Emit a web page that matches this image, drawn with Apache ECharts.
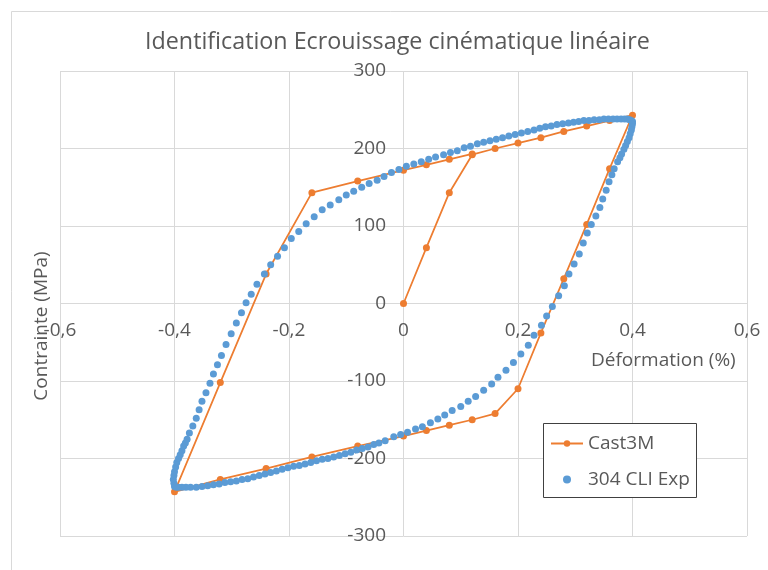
<!DOCTYPE html>
<html>
<head>
<meta charset="utf-8">
<script src="https://cdn.jsdelivr.net/npm/echarts@6/dist/echarts.min.js"></script>
<style>
  html, body { margin: 0; padding: 0; background: #fff; }
  #chart1 { width: 768px; height: 570px; }
</style>
</head>
<body>
<div id="chart1"></div>
<script>
var xTicks = ['-0,6', '-0,4', '-0,2', '0', '0,2', '0,4', '0,6'];

// Cast3M model (line + markers)
var castStrain = [0, 0.04, 0.08, 0.12, 0.16, 0.2, 0.24, 0.28, 0.32, 0.36, 0.4,
  0.36, 0.32, 0.28, 0.24, 0.2, 0.16, 0.12, 0.08, 0.04, 0,
  -0.08, -0.16, -0.24, -0.32, -0.4,
  -0.32, -0.24, -0.16, -0.08, 0, 0.04, 0.08, 0.12];
var castStress = [0, 72, 143, 192, 200, 207, 214, 222, 229, 236, 243,
  174, 102, 32, -38, -110, -142, -150, -157, -164, -171,
  -184, -198, -213, -227, -243,
  -102, 38, 143, 158, 172, 179, 186, 193];

var expStrain = [
  // left branch, going up
  -0.400, -0.401, -0.402, -0.401, -0.400, -0.398, -0.396, -0.393, -0.390, -0.387,
  -0.384, -0.381, -0.378, -0.374, -0.368, -0.362, -0.357, -0.352, -0.345, -0.338,
  -0.332, -0.325, -0.318, -0.310, -0.301, -0.292, -0.283, -0.275, -0.266, -0.256,
  -0.243, -0.232, -0.220, -0.208, -0.196, -0.183, -0.170, -0.156,
  // upper branch
  -0.142, -0.128, -0.113, -0.100, -0.087, -0.073, -0.060, -0.046, -0.034, -0.021,
  -0.008, 0.005, 0.018, 0.031, 0.044, 0.056, 0.070, 0.082, 0.094, 0.106,
  0.117, 0.129, 0.140, 0.151, 0.162, 0.173, 0.184, 0.195, 0.206, 0.217,
  0.228, 0.238, 0.248, 0.258, 0.268, 0.278, 0.288, 0.297, 0.306, 0.315,
  0.324, 0.333, 0.342, 0.350, 0.358, 0.366, 0.373, 0.380, 0.386, 0.391,
  0.395, 0.398, 0.400,
  // right branch, going down
  0.400, 0.399, 0.398, 0.396, 0.394, 0.391, 0.388, 0.385, 0.381, 0.378,
  0.374, 0.368, 0.364, 0.359, 0.354, 0.348, 0.343, 0.336, 0.328, 0.321,
  0.314, 0.307, 0.298, 0.289, 0.281, 0.271, 0.260, 0.250, 0.241, 0.228,
  0.218, 0.205, 0.192, 0.179, 0.165, 0.154, 0.140, 0.126, 0.113, 0.100,
  0.085, 0.072, 0.060, 0.047, 0.033, 0.021, 0.007, -0.005, -0.017, -0.032,
  -0.043,
  // lower branch
  -0.052, -0.062, -0.072, -0.082, -0.092, -0.102, -0.112, -0.122, -0.132, -0.142,
  -0.152, -0.162, -0.172, -0.182, -0.192, -0.202, -0.212, -0.222, -0.232, -0.242,
  -0.252, -0.262, -0.272, -0.282, -0.292, -0.302, -0.312, -0.322, -0.332, -0.342,
  -0.352, -0.362, -0.372, -0.380, -0.387, -0.393, -0.397
];
var expStress = [
  -236, -232, -227, -222, -217, -211, -205, -200, -195, -190,
  -184, -180, -175, -167, -158, -148, -137, -126, -115, -103,
  -91, -79, -67, -53, -39, -25, -12, 1, 12, 25,
  38, 50, 61, 72, 84, 93, 103, 112,
  121, 127, 134, 140, 145, 150, 155, 159, 164, 169,
  173, 177, 180, 183, 186, 189, 192, 195, 197, 201,
  203, 206, 208, 210, 212, 214, 216, 218, 220, 222,
  224, 226, 228, 229, 231, 232, 233, 234, 235, 236,
  236, 237, 237, 238, 238, 238, 238, 238, 238, 238,
  237, 236, 235,
  232, 228, 224, 219, 214, 209, 204, 199, 193, 188,
  183, 174, 166, 157, 146, 135, 124, 113, 102, 91,
  78, 64, 51, 38, 23, 10, -4, -16, -28, -41,
  -54, -65, -76, -86, -95, -104, -112, -120, -126, -133,
  -138, -144, -149, -154, -159, -162, -166, -169, -172, -177,
  -180,
  -182, -185, -187, -189, -192, -194, -196, -198, -200, -201,
  -203, -205, -207, -209, -210, -212, -214, -216, -218, -220,
  -222, -224, -226, -227, -229, -230, -231, -233, -234, -235,
  -236, -237, -237, -237, -237, -237, -237
];

var font = '"Open Sans", "Segoe UI", sans-serif';
var grey = '#595959';
var gridGrey = '#d9d9d9';

var chartDom = document.getElementById('chart1');
var myChart = echarts.init(chartDom);
var option;

option = {
  animation: false,
  backgroundColor: '#fff',
  textStyle: { fontFamily: font },
  title: {
    text: 'Identification Ecrouissage cinématique linéaire',
    left: 140,
    top: 26,
    textStyle: { fontFamily: font, fontSize: 23.3, fontWeight: 'normal', color: grey }
  },
  grid: { left: 60, right: 21, top: 71, bottom: 34, containLabel: false },
  legend: {
    orient: 'vertical',
    left: 550,
    top: 434,
    padding: 0,
    itemGap: 17,
    itemWidth: 32,
    itemHeight: 8,
    z: 10,
    textStyle: { fontFamily: font, fontSize: 19, color: grey },
    data: ['Cast3M', '304 CLI Exp']
  },
  xAxis: {
    type: 'value',
    min: -0.6,
    max: 0.6,
    interval: 0.2,
    position: 'bottom',
    offset: -232,
    axisLine: { show: false, onZero: false },
    axisTick: { show: false },
    axisLabel: {
      margin: 17,
      fontSize: 19,
      color: grey,
      fontFamily: font,
      formatter: function (v) {
        var i = Math.round((v + 0.6) / 0.2);
        return xTicks[i];
      }
    },
    splitLine: { show: true, lineStyle: { color: gridGrey } }
  },
  yAxis: {
    type: 'value',
    min: -300,
    max: 300,
    interval: 100,
    position: 'left',
    offset: -343,
    axisLine: { show: false, onZero: false },
    axisTick: { show: false },
    axisLabel: { margin: 17, fontSize: 19, color: grey, fontFamily: font },
    splitLine: { show: true, lineStyle: { color: gridGrey } }
  },
  graphic: [
    {
      type: 'rect',
      shape: { x: 11.5, y: 11.5, width: 800, height: 600 },
      style: { fill: 'none', stroke: gridGrey, lineWidth: 1 },
      silent: true
    },
    {
      type: 'rect',
      shape: { x: 543.5, y: 423.5, width: 153, height: 74 },
      style: { fill: '#fff', stroke: '#404040', lineWidth: 1 },
      z: 4,
      silent: true
    },
    {
      type: 'text',
      x: 591,
      y: 361,
      style: {
        text: 'Déformation (%)',
        fontFamily: font,
        fontSize: 19,
        fill: grey,
        textVerticalAlign: 'middle'
      }
    },
    {
      type: 'text',
      x: 42,
      y: 326,
      rotation: Math.PI / 2,
      style: {
        text: 'Contrainte (MPa)',
        fontFamily: font,
        fontSize: 19,
        fill: grey,
        textAlign: 'center',
        textVerticalAlign: 'middle'
      }
    }
  ],
  series: [
    {
      name: 'Cast3M',
      type: 'line',
      data: castStrain.map(function (x, i) { return [x, castStress[i]]; }),
      symbol: 'circle',
      symbolSize: 7,
      showSymbol: true,
      lineStyle: { color: '#ED7D31', width: 1.75 },
      itemStyle: { color: '#ED7D31' },
      z: 2
    },
    {
      name: '304 CLI Exp',
      type: 'scatter',
      data: expStrain.map(function (x, i) { return [x, expStress[i]]; }),
      symbol: 'circle',
      symbolSize: 7,
      itemStyle: { color: '#5B9BD5', opacity: 1 },
      z: 3
    }
  ]
};

option && myChart.setOption(option);
window.onresize = function() {
  myChart.resize();
};
</script>
</body>
</html>
